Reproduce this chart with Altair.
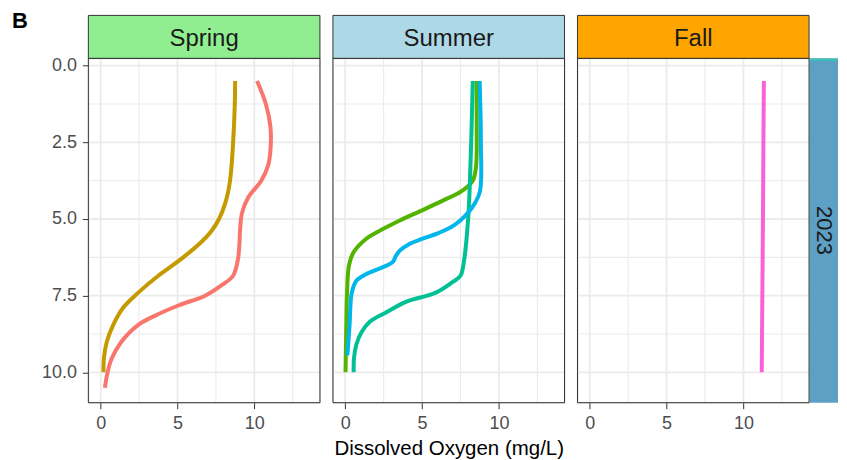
import altair as alt
import pandas as pd

# ---------------- data ----------------
seasons = ["Spring", "Summer", "Fall"]
year_label = "2023"
x_title = "Dissolved Oxygen (mg/L)"
x_ticks = [0, 5, 10]
y_ticks = [0.0, 2.5, 5.0, 7.5, 10.0]
x_minor = [2.5, 7.5, 12.5]
y_minor = [1.25, 3.75, 6.25, 8.75]

spring_a_depth = [0.5, 1.25, 2.5, 3.75, 4.5, 5.0, 5.4, 5.75, 6.3, 6.85, 7.4, 7.9, 8.45, 9.0, 9.5, 10.0]
spring_a_do = [8.75, 8.73, 8.62, 8.42, 8.1, 7.7, 7.2, 6.55, 5.25, 3.75, 2.45, 1.45, 0.82, 0.40, 0.22, 0.18]

spring_b_depth = [0.5, 1.25, 2.0, 2.75, 3.25, 3.75, 4.3, 4.8, 5.3, 5.8, 6.3, 6.85, 7.15, 7.5, 7.82, 8.15, 8.45, 9.0, 9.55, 10.0, 10.5]
spring_b_do = [10.18, 10.75, 11.05, 11.05, 10.9, 10.45, 9.6, 9.2, 9.08, 9.03, 8.94, 8.62, 7.9, 6.8, 5.05, 3.55, 2.45, 1.35, 0.72, 0.45, 0.28]

summer_a_depth = [0.5, 2.0, 3.0, 3.35, 3.75, 4.1, 4.4, 4.75, 5.05, 5.45, 5.65, 6.08, 6.5, 7.4, 8.5, 10.0]
summer_a_do = [8.55, 8.56, 8.55, 8.5, 8.3, 7.55, 6.35, 4.85, 3.55, 2.0, 1.35, 0.55, 0.25, 0.12, 0.07, 0.02]

summer_b_depth = [0.5, 2.5, 4.0, 5.0, 6.3, 6.85, 7.05, 7.4, 7.7, 8.05, 8.35, 8.7, 9.1, 9.55, 10.0]
summer_b_do = [8.3, 8.2, 8.1, 8.0, 7.75, 7.5, 7.0, 5.9, 3.95, 2.65, 1.6, 1.05, 0.72, 0.57, 0.55]

summer_c_depth = [0.5, 2.5, 4.1, 4.5, 4.85, 5.2, 5.45, 5.65, 5.82, 6.03, 6.2, 6.4, 6.57, 6.8, 7.0, 7.4, 8.5, 9.45]
summer_c_do = [8.75, 8.83, 8.77, 8.42, 7.9, 7.1, 6.1, 5.0, 4.15, 3.55, 3.3, 3.1, 2.45, 1.35, 0.75, 0.43, 0.28, 0.14]

fall_a_depth = [0.5, 2.5, 5.0, 7.5, 10.0]
fall_a_do = [11.33, 11.3, 11.27, 11.23, 11.19]

series_defs = [
    ("Spring", "Spring A", spring_a_depth, spring_a_do),
    ("Spring", "Spring B", spring_b_depth, spring_b_do),
    ("Summer", "Summer A", summer_a_depth, summer_a_do),
    ("Summer", "Summer B", summer_b_depth, summer_b_do),
    ("Summer", "Summer C", summer_c_depth, summer_c_do),
    ("Fall", "Fall A", fall_a_depth, fall_a_do),
]

# ---------------- styles ----------------
series_colors = {
    "Spring A": "#C49A00", "Spring B": "#F8766D",
    "Summer A": "#53B400", "Summer B": "#00C094", "Summer C": "#00B6EB",
    "Fall A": "#FB61D7",
}
strip_fill = {"Spring": "#90EE90", "Summer": "#ADD8E6", "Fall": "#FFA500"}
year_fill = "#5E9FC6"
FONT = "Liberation Sans"
W, H = 232, 345
STRIP_H = 43
X_DOMAIN = [-0.8, 14.27]
Y_DOMAIN = [-0.24, 10.99]

rows = []
for season, name, dep, dov in series_defs:
    for i, (d, v) in enumerate(zip(dep, dov)):
        rows.append({"season": season, "series": name, "depth": d, "do": v, "idx": i})
df = pd.DataFrame(rows)

color_scale = alt.Scale(domain=list(series_colors.keys()), range=list(series_colors.values()))
xs = alt.Scale(domain=X_DOMAIN, nice=False, zero=False)
ys = alt.Scale(domain=Y_DOMAIN, nice=False, zero=False, reverse=True)


def panel(season, first=False, middle=False, last=False):
    d = df[df["season"] == season]
    x_axis = alt.Axis(values=x_ticks, grid=False, domain=False, tickSize=6, tickColor="#333333",
                      labelFontSize=18, labelColor="#4D4D4D", labelPadding=6, labelOverlap=False,
                      labelFont=FONT, titleFont=FONT, titleFontSize=20.5, titleFontWeight="normal",
                      titleColor="#000000", titlePadding=5.5,
                      title=x_title if middle else "")
    if first:
        y_axis = alt.Axis(values=y_ticks, format=".1f", grid=False, domain=False, tickSize=6,
                          tickColor="#333333", labelFontSize=18, labelColor="#4D4D4D",
                          labelPadding=6, labelOverlap=False, labelFont=FONT, title="")
    else:
        y_axis = None

    gx_minor = alt.Chart(pd.DataFrame({"v": x_minor})).mark_rule(color="#EBEBEB", strokeWidth=1.1).encode(
        x=alt.X("v:Q", scale=xs, axis=x_axis))
    gy_minor = alt.Chart(pd.DataFrame({"v": y_minor})).mark_rule(color="#EBEBEB", strokeWidth=1.1).encode(
        y=alt.Y("v:Q", scale=ys, axis=y_axis))
    gx_major = alt.Chart(pd.DataFrame({"v": x_ticks})).mark_rule(color="#EBEBEB", strokeWidth=1.8).encode(
        x=alt.X("v:Q", scale=xs, axis=x_axis))
    gy_major = alt.Chart(pd.DataFrame({"v": y_ticks})).mark_rule(color="#EBEBEB", strokeWidth=1.8).encode(
        y=alt.Y("v:Q", scale=ys, axis=y_axis))

    lines = alt.Chart(d).mark_line(strokeWidth=4, interpolate="catmull-rom", strokeCap="butt").encode(
        x=alt.X("do:Q", scale=xs, axis=x_axis),
        y=alt.Y("depth:Q", scale=ys, axis=y_axis),
        color=alt.Color("series:N", scale=color_scale, legend=None),
        detail="series:N",
        order=alt.Order("idx:Q"),
    )

    lab = pd.DataFrame({"label": [season]})
    border = alt.Chart(lab).mark_rect(fill="transparent", stroke="#333333", strokeWidth=1).encode(
        x=alt.value(0), x2=alt.value(W), y=alt.value(0), y2=alt.value(H))
    strip_rect = alt.Chart(lab).mark_rect(fill=strip_fill[season], stroke="#333333", strokeWidth=1).encode(
        x=alt.value(0), x2=alt.value(W), y=alt.value(-STRIP_H), y2=alt.value(0))
    strip_text = alt.Chart(lab).mark_text(fontSize=24, font=FONT, color="#1A1A1A", align="center",
                                          baseline="alphabetic").encode(
        x=alt.value(W / 2), y=alt.value(-12.5), text="label:N")

    layers = [gx_minor, gy_minor, gx_major, gy_major, lines]

    if first:
        b = alt.Chart(pd.DataFrame({"t": ["B"]})).mark_text(fontSize=22, fontWeight="bold", font=FONT,
                                                            color="#000000", align="left",
                                                            baseline="alphabetic").encode(
            x=alt.value(-76.5), y=alt.value(-30), text="t:N")
        layers.append(b)
    if last:
        yl = pd.DataFrame({"label": [year_label]})
        yr = alt.Chart(yl).mark_rect(fill=year_fill).encode(
            x=alt.value(W + 0.5), x2=alt.value(W + 29), y=alt.value(0), y2=alt.value(H))
        yline = alt.Chart(yl).mark_rule(color="#35C7B0", strokeWidth=2).encode(
            x=alt.value(W + 1), x2=alt.value(W + 28), y=alt.value(1.5))
        ytext = alt.Chart(yl).mark_text(fontSize=22, font=FONT, color="#1A1A1A", angle=90,
                                        align="center", baseline="middle").encode(
            x=alt.value(W + 15), y=alt.value(H / 2), text="label:N")
        layers += [yr, yline, ytext]

    layers += [border, strip_rect, strip_text]
    return alt.layer(*layers).properties(width=W, height=H)


chart = alt.hconcat(
    panel("Spring", first=True),
    panel("Summer", middle=True),
    panel("Fall", last=True),
    spacing=13,
    bounds="flush",
).properties(
    padding={"left": 3.5, "top": 1, "right": 0, "bottom": 0}
).configure_view(
    stroke=None
).configure(font=FONT)

chart.save("out.html", embed_options={"renderer": "svg", "actions": False})
